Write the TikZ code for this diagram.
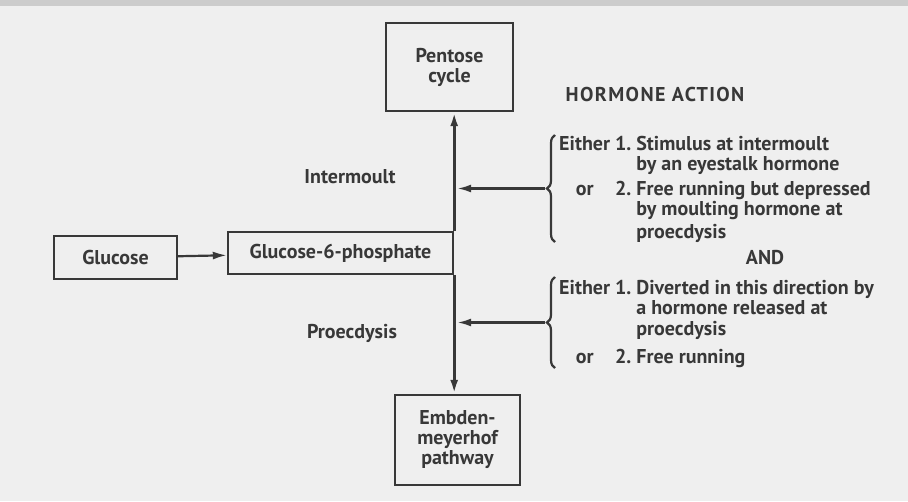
\documentclass[tikz,border=0pt]{standalone}
\usepackage{fontspec}
\setmainfont{PT Sans}
\definecolor{scanbg}{HTML}{EFEFEF}
\definecolor{ink}{HTML}{383838}
\usetikzlibrary{
  positioning,
  arrows.meta,
  decorations.pathreplacing
}

\begin{document}
\begin{tikzpicture}[
  x=1pt, y=-1pt,
  >={Latex[length=14pt,width=8pt]},
  every node/.style={text=ink, font=\fontsize{20}{20}\selectfont\bfseries},
  box/.style={
    rectangle, draw=ink, line width=2.4pt, align=center, inner sep=0pt
  },
  stage/.style={align=center, inner sep=0pt},
  hormone/.style={anchor=north west, inner sep=0pt},
  bracket/.style={
    draw=ink, line width=2.2pt, decorate, decoration={brace, amplitude=8pt}
  },
  flow/.style={draw=ink, line width=3pt, ->},
  action/.style={draw=ink, line width=2.2pt, ->, shorten >=3pt}
]

\fill[scanbg] (0,0) rectangle (908,501);
\fill[gray!40] (0,0) rectangle (908,6);

\node[box, minimum width=127pt, minimum height=88pt] (pentose) at (449.5,67)
  {Pentose\\cycle};
\node[box, minimum width=123pt, minimum height=43pt] (glucose) at (115.5,257.5)
  {Glucose};
\node[box, minimum width=225pt, minimum height=42pt] (g6p) at (340.5,253)
  {Glucose-6-phosphate};
\node[box, minimum width=125pt, minimum height=90pt] (embden) at (457.5,440)
  {Embden-\\meyerhof\\pathway};

\node[stage] (intermoult) at (350,177) {Intermoult};
\node[stage] (proecdysis) at (352,333) {Proecdysis};
\node[stage, font=\fontsize{20}{20}\selectfont\bfseries\addfontfeatures{LetterSpace=7}]
  (title) at (655,94) {HORMONE ACTION};
\node[stage] (and) at (765,258) {AND};

\node[hormone] (upper) at (559,136) {%
  \begin{tabular}{@{}c@{\hspace{5pt}}l@{\hspace{5pt}}l@{}}
    Either & 1. & Stimulus at intermoult\\
           &    & by an eyestalk hormone\\[5pt]
    or     & 2. & Free running but depressed\\
           &    & by moulting hormone at\\[2pt]
           &    & proecdysis
  \end{tabular}};
\node[hormone] (lower) at (559,280) {%
  \begin{tabular}{@{}c@{\hspace{5pt}}l@{\hspace{5pt}}l@{}}
    Either & 1. & Diverted in this direction by\\
           &    & a hormone released at\\[1pt]
           &    & proecdysis\\[8pt]
    or     & 2. & Free running
  \end{tabular}};

% braces and their arrows
\draw[bracket] (555,242) -- (555,135);
\draw[bracket] (555,368) -- (555,277);
\coordinate (tipA) at (545,188.5);
\coordinate (tipB) at (545,322.5);

\draw[action, shorten >=0pt] (glucose) -- (g6p);
\draw[flow] (g6p.north east) -- (g6p.north east |- pentose.south);
\draw[flow] (g6p.south east) -- (g6p.south east |- embden.north);
\draw[action] (tipA) -- (tipA -| g6p.east);
\draw[action] (tipB) -- (tipB -| g6p.east);

\end{tikzpicture}
\end{document}
